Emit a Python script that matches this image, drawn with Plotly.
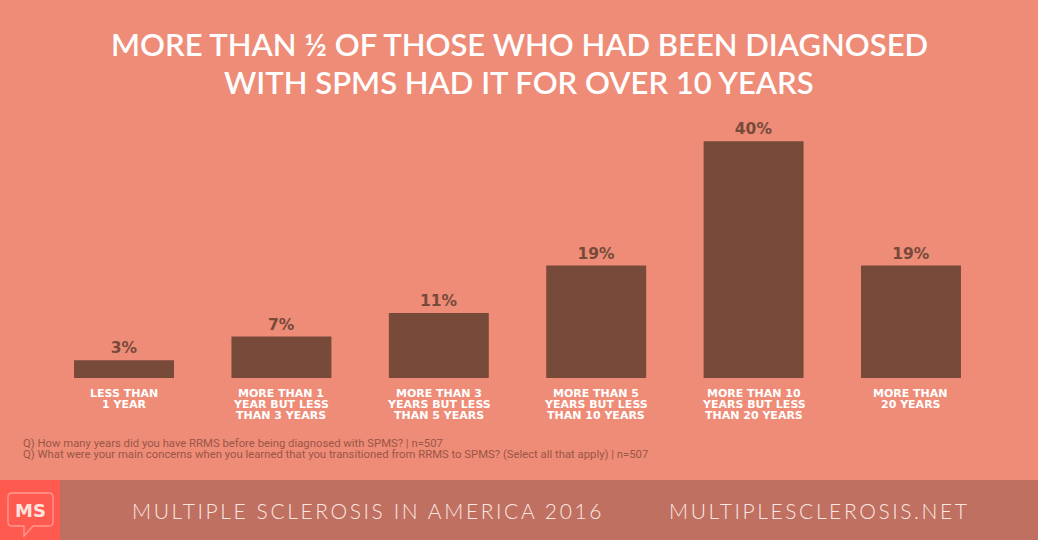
import plotly.graph_objects as go

# Data
categories = [
    "LESS THAN<br>1 YEAR",
    "MORE THAN 1<br>YEAR BUT LESS<br>THAN 3 YEARS",
    "MORE THAN 3<br>YEARS BUT LESS<br>THAN 5 YEARS",
    "MORE THAN 5<br>YEARS BUT LESS<br>THAN 10 YEARS",
    "MORE THAN 10<br>YEARS BUT LESS<br>THAN 20 YEARS",
    "MORE THAN<br>20 YEARS",
]
percent = [3, 7, 11, 19, 40, 19]

title_lines = [
    "MORE THAN ½ OF THOSE WHO HAD BEEN DIAGNOSED",
    "WITH SPMS HAD IT FOR OVER 10 YEARS",
]
footnotes = [
    "Q) How many years did you have RRMS before being diagnosed with SPMS? | n=507",
    "Q) What were your main concerns when you learned that you transitioned from RRMS to SPMS? (Select all that apply) | n=507",
]
footer_left = "MULTIPLE SCLEROSIS IN AMERICA 2016"
footer_right = "MULTIPLESCLEROSIS.NET"

# Colours
BG = "#EE8C78"
BAR = "#774A3A"
FOOTER = "#BF7060"
LOGO = "#FF5A4F"
WHITE = "#FFFFFF"
NOTE = "#9A5646"
FOOTER_TEXT = "#FBE6E0"

W, H = 1038, 540


def px(x):
    return x / W


def py(y):
    return 1 - y / H


fig = go.Figure()

fig.add_trace(
    go.Bar(
        x=list(range(len(categories))),
        y=percent,
        width=0.635,
        marker={"color": BAR, "line": {"width": 0}},
        texttemplate="%{y}%",
        textposition="outside",
        textfont={"color": BAR, "size": 15.5, "family": "DejaVu Sans", "weight": 700},
        cliponaxis=False,
        hoverinfo="skip",
    )
)

shapes = [
    # footer band
    dict(type="rect", xref="paper", yref="paper", x0=0, x1=1, y0=py(541), y1=py(480),
         fillcolor=FOOTER, line={"width": 0}, layer="below"),
    # logo square
    dict(type="rect", xref="paper", yref="paper", x0=px(-1), x1=px(60), y0=py(541), y1=py(480),
         fillcolor=LOGO, line={"width": 0}, layer="below"),
]

# speech bubble outline of logo
bubble = (
    f"M {px(12)},{py(493)} L {px(49)},{py(493)} Q {px(53)},{py(493)} {px(53)},{py(497)} "
    f"L {px(53)},{py(522)} Q {px(53)},{py(526)} {px(49)},{py(526)} "
    f"L {px(33)},{py(526)} L {px(24)},{py(536)} L {px(24)},{py(526)} "
    f"L {px(12)},{py(526)} Q {px(8)},{py(526)} {px(8)},{py(522)} "
    f"L {px(8)},{py(497)} Q {px(8)},{py(493)} {px(12)},{py(493)} Z"
)
shapes.append(dict(type="path", xref="paper", yref="paper", path=bubble,
                   line={"color": "#FF9A90", "width": 1.3}))

annotations = []
for i, line in enumerate(title_lines):
    annotations.append(dict(
        text=line, xref="paper", yref="paper", x=0.5, y=py(44 + i * 38),
        xanchor="center", yanchor="middle", showarrow=False,
        font={"family": "Lato", "size": 31, "color": WHITE, "weight": 600},
    ))

# category labels, one line at a time to keep the tight line spacing
for i, label in enumerate(categories):
    for j, part in enumerate(label.split("<br>")):
        annotations.append(dict(
            text=part, xref="x", yref="paper", x=i, y=py(393 + j * 11),
            xanchor="center", yanchor="middle", showarrow=False,
            font={"family": "DejaVu Sans", "size": 11, "color": WHITE, "weight": 700},
        ))

for i, line in enumerate(footnotes):
    annotations.append(dict(
        text=line, xref="paper", yref="paper", x=px(21), y=py(443 + i * 11),
        xanchor="left", yanchor="middle", showarrow=False,
        font={"family": "Liberation Sans Narrow, Roboto", "size": 11.3, "color": NOTE},
    ))
annotations.append(dict(
    text="MS", xref="paper", yref="paper", x=px(30.5), y=py(510),
    xanchor="center", yanchor="middle", showarrow=False,
    font={"family": "DejaVu Sans", "size": 18, "color": "#FFE3DE", "weight": 700},
))
annotations.append(dict(
    text=f"<span style='letter-spacing:2.6px'>{footer_left}</span>",
    xref="paper", yref="paper", x=px(130), y=py(510),
    xanchor="left", yanchor="middle", showarrow=False,
    font={"family": "Lato", "size": 21, "color": FOOTER_TEXT, "weight": 300},
))
annotations.append(dict(
    text=f"<span style='letter-spacing:2.6px'>{footer_right}</span>",
    xref="paper", yref="paper", x=px(667), y=py(510),
    xanchor="left", yanchor="middle", showarrow=False,
    font={"family": "Lato", "size": 21, "color": FOOTER_TEXT, "weight": 300},
))

fig.update_layout(
    width=W,
    height=H,
    paper_bgcolor=BG,
    plot_bgcolor=BG,
    margin={"l": 0, "r": 0, "t": 0, "b": 0},
    showlegend=False,
    xaxis={
        "range": [-0.788, 5.807],
        "showticklabels": False,
        "showgrid": False,
        "zeroline": False,
        "showline": False,
        "ticks": "",
        "automargin": False,
        "fixedrange": True,
    },
    yaxis={
        "domain": [162 / H, 1 - 110 / H],
        "range": [0, 45.27],
        "visible": False,
        "fixedrange": True,
    },
    shapes=shapes,
    annotations=annotations,
)

fig.write_html(
    "out.html",
    config={"displayModeBar": False},
    post_script="document.body.style.margin='0';document.body.style.overflow='hidden';",
)
